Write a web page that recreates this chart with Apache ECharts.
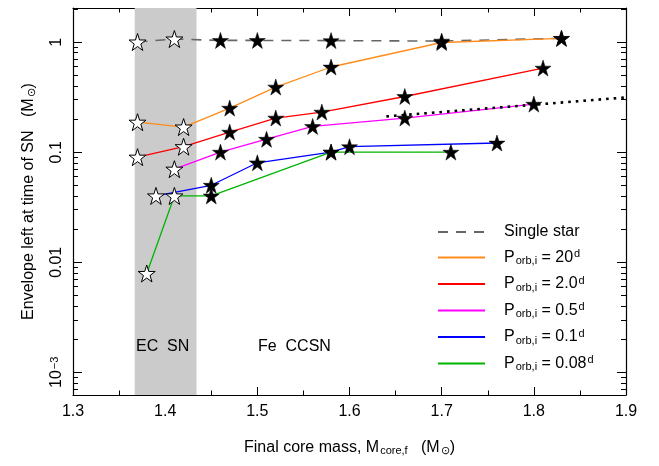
<!DOCTYPE html>
<html><head><meta charset="utf-8">
<script src="https://cdn.jsdelivr.net/npm/echarts@6/dist/echarts.min.js"></script>
<style>html,body{margin:0;padding:0;background:#fff}#c{width:659px;height:466px}</style>
</head><body><div id="c"></div>
<script>
// ---- data (x = final core mass, y = envelope mass in Msun) ----
const singleX = [1.37, 1.41, 1.46, 1.50, 1.58, 1.70, 1.83];
const singleY = [1.00, 1.065, 1.034, 1.034, 1.03, 1.02, 1.08];
const p20X = [1.37, 1.42, 1.47, 1.52, 1.58, 1.70, 1.83];
const p20Y = [0.187, 0.169, 0.251, 0.39, 0.593, 0.99, 1.08];
const p2X = [1.37, 1.42, 1.47, 1.52, 1.57, 1.66, 1.81];
const p2Y = [0.090, 0.112, 0.152, 0.204, 0.231, 0.32, 0.58];
const p05X = [1.41, 1.46, 1.51, 1.56, 1.66, 1.80];
const p05Y = [0.070, 0.100, 0.131, 0.171, 0.204, 0.273];
const p01X = [1.39, 1.45, 1.50, 1.58, 1.60, 1.76];
const p01Y = [0.040, 0.050, 0.080, 0.100, 0.112, 0.121];
const p008X = [1.38, 1.41, 1.45, 1.58, 1.71];
const p008Y = [0.0079, 0.040, 0.040, 0.100, 0.100];
const dotX = [1.64, 1.90];
const dotY = [0.211, 0.314];
const ecRange = [1.367, 1.434];
const yMajorTicks = [0.001, 0.01, 0.1, 1];
const yLabels = ['10{sup|\u22123}', '0.01', '0.1', '1'];
const seriesNames = ['Single star', 'P20', 'P2', 'P05', 'P01', 'P008'];
const legendTexts = ['Single star',
  'P{sub|orb,i} = 20{sup|d}', 'P{sub|orb,i} = 2.0{sup|d}', 'P{sub|orb,i} = 0.5{sup|d}',
  'P{sub|orb,i} = 0.1{sup|d}', 'P{sub|orb,i} = 0.08{sup|d}'];

// ---- helpers ----
const L = v => Math.log10(v);
const yMin = -3.206, yMax = 0.309;
const majorExp = yMajorTicks.map(L);
const minorExp = [];
for (let d = -4; d <= 0; d++) for (let k = 2; k <= 9; k++) {
  const v = d + Math.log10(k); if (v > yMin && v < yMax) minorExp.push(v);
}
const pts = (xs, ys) => xs.map((x, i) => [x, L(ys[i])]);
const FONT = 'Liberation Sans';
const rich = {
  sub: { fontSize: 11, fontFamily: FONT, verticalAlign: 'bottom', lineHeight: 11, padding: [10, 0, 0, 1] },
  sup: { fontSize: 11, fontFamily: FONT, verticalAlign: 'top', lineHeight: 11, padding: [0, 0, 8, 1] }
};
const colors = ['#666666', '#ff8c1a', '#ff0000', '#ff00ff', '#0000ff', '#00b400'];
const lineData = [[singleX, singleY], [p20X, p20Y], [p2X, p2Y], [p05X, p05Y], [p01X, p01Y], [p008X, p008Y]];

const hollow = [], filled = [];
lineData.forEach(([xs, ys]) => xs.forEach((x, i) => {
  (x < ecRange[1] ? hollow : filled).push([x, L(ys[i])]);
}));
const STAR = 'path://M50,0 L61.8,35.5 L99,35.5 L69,57.5 L80.5,93 L50,71 L19.5,93 L31,57.5 L1,35.5 L38.2,35.5 Z';

const series = lineData.map(([xs, ys], i) => ({
  name: seriesNames[i], type: 'line', data: pts(xs, ys), symbol: 'none', z: 3,
  lineStyle: { color: colors[i], width: i === 0 ? 1.6 : 1.3, type: i === 0 ? [10, 8] : 'solid' },
  itemStyle: { color: colors[i] }
}));
series.unshift({
  type: 'line', data: [], silent: true,
  markArea: { silent: true, itemStyle: { color: '#cbcbcb' }, data: [[{ xAxis: ecRange[0] }, { xAxis: ecRange[1] }]] }
});
series.push({ type: 'line', data: pts(dotX, dotY), symbol: 'none', z: 3,
  lineStyle: { color: '#000', width: 2.6, type: [2.6, 5], cap: 'butt' } });
series.push({ type: 'scatter', data: hollow, symbol: STAR, symbolSize: 17, z: 5,
  itemStyle: { color: '#ffffff', borderColor: '#000', borderWidth: 1, opacity: 1 } });
series.push({ type: 'scatter', data: filled, symbol: STAR, symbolSize: 16, z: 5,
  itemStyle: { color: '#000', borderColor: '#000', borderWidth: 0.5, opacity: 1 } });

const baseY = { type: 'value', min: yMin, max: yMax, splitLine: { show: false } };
const xCommon = {
  type: 'value', min: 1.3, max: 1.9, interval: 0.1, splitLine: { show: false },
  axisLine: { show: true, onZero: false, lineStyle: { color: '#000', width: 1.2 } },
  axisTick: { show: true, inside: true, length: 8, lineStyle: { color: '#000' } },
  minorTick: { show: true, splitNumber: 2, length: 4.5, lineStyle: { color: '#000' } }
};
// grid 1 shares the pixel scale of the plot (110 px per decade, 10^0 at y=42.3) but spans whole decades,
// so that its axis can carry the rotated decade labels
const chart = echarts.init(document.getElementById('c'), null, { renderer: 'canvas' });
chart.setOption({
  animation: false,
  backgroundColor: '#fff',
  textStyle: { fontFamily: FONT },
  grid: [
    { left: 73, right: 33, top: 8, bottom: 71, containLabel: false, outerBoundsMode: 'none' },
    { left: 73, right: 33, top: -67.7, bottom: -16.3, containLabel: false, outerBoundsMode: 'none' }
  ],
  xAxis: [
    Object.assign({}, xCommon, {
      position: 'bottom',
      name: 'Final core mass, M{sub|core,f}   (M{sub|\u2299})',
      nameLocation: 'middle', nameGap: 45,
      nameTextStyle: { fontSize: 16, color: '#000', fontFamily: FONT, rich: rich },
      axisLabel: { fontSize: 16, color: '#000', margin: 9, fontFamily: FONT, formatter: v => v.toFixed(1) }
    }),
    Object.assign({}, xCommon, { position: 'top', axisLabel: { show: false } }),
    { type: 'value', gridIndex: 1, min: 1.3, max: 1.9, show: false }
  ],
  yAxis: [
    Object.assign({}, baseY, {
      position: 'left',
      name: 'Envelope left at time of SN   (M{sub|\u2299})',
      nameLocation: 'middle', nameGap: 36, nameRotate: 90,
      nameTextStyle: { fontSize: 16, color: '#000', fontFamily: FONT, rich: rich },
      axisLine: { show: true, onZero: false, lineStyle: { color: '#000', width: 1.2 } },
      axisTick: { show: true, inside: true, length: 9, customValues: majorExp, lineStyle: { color: '#000' } },
      axisLabel: { show: false }
    }),
    Object.assign({}, baseY, {
      position: 'left', axisLine: { show: false, onZero: false },
      axisTick: { show: true, inside: true, length: 5, customValues: minorExp, lineStyle: { color: '#000' } },
      axisLabel: { show: false }
    }),
    Object.assign({}, baseY, {
      position: 'right',
      axisLine: { show: true, onZero: false, lineStyle: { color: '#000', width: 1.2 } },
      axisTick: { show: true, inside: true, length: 9, customValues: majorExp, lineStyle: { color: '#000' } },
      axisLabel: { show: false }
    }),
    Object.assign({}, baseY, {
      position: 'right', axisLine: { show: false, onZero: false },
      axisTick: { show: true, inside: true, length: 5, customValues: minorExp, lineStyle: { color: '#000' } },
      axisLabel: { show: false }
    }),
    {
      type: 'value', gridIndex: 1, position: 'left', min: -4, max: 1, interval: 1,
      splitLine: { show: false }, axisLine: { show: false, onZero: false }, axisTick: { show: false },
      axisLabel: { show: true, rotate: 90, fontSize: 16, color: '#000', margin: 8, fontFamily: FONT, rich: rich,
        showMinLabel: false, showMaxLabel: false,
        formatter: v => { const i = majorExp.findIndex(m => Math.abs(m - v) < 1e-6); return i >= 0 ? yLabels[i] : ''; } }
    }
  ],
  legend: {
    orient: 'vertical', left: 432, top: 218, itemWidth: 47, itemHeight: 12, itemGap: 4.5,
    data: seriesNames, selectedMode: false,
    itemStyle: { color: 'rgba(0,0,0,0)', borderColor: 'rgba(0,0,0,0)', borderWidth: 0 },
    formatter: name => legendTexts[seriesNames.indexOf(name)],
    textStyle: { fontSize: 16, color: '#000', fontFamily: FONT, padding: [0, 0, 0, 14], lineHeight: 18, rich: rich }
  },
  graphic: [
    { type: 'text', left: 136, top: 339, z: 100, style: { text: 'EC  SN', fontSize: 16, fontFamily: FONT, fill: '#000' } },
    { type: 'text', left: 258, top: 339, z: 100, style: { text: 'Fe  CCSN', fontSize: 16, fontFamily: FONT, fill: '#000' } }
  ],
  series: series
});
</script>
</body></html>
